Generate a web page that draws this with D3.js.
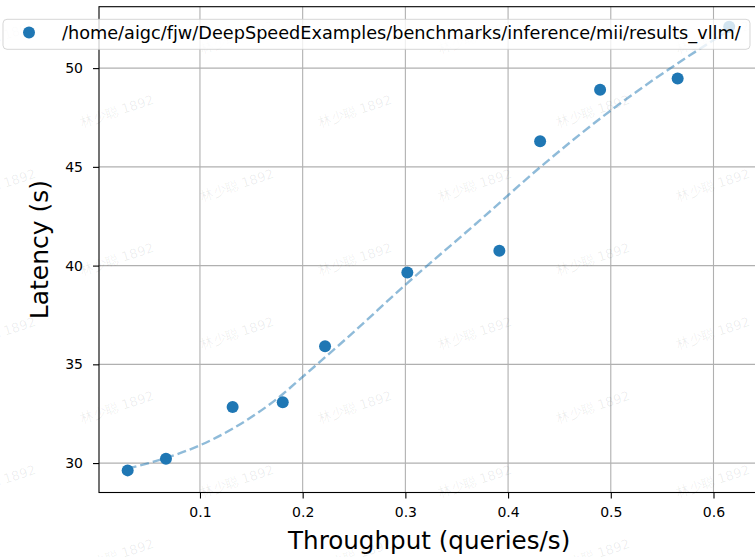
<!DOCTYPE html>
<html>
<head>
<meta charset="utf-8">
<script src="https://cdn.jsdelivr.net/npm/d3@7"></script>
<style>
    body { margin: 0; background: #fff; }
    #chart { width: 755px; height: 557px; overflow: hidden; }
    text { font-family: "DejaVu Sans", sans-serif; }
</style>
</head>
<body>
<div id="chart"></div>
<script>

// measured points (throughput in queries/s, latency in s)
const throughput = [0.0296, 0.0669, 0.1318, 0.1806, 0.2218, 0.3019, 0.3915, 0.4312, 0.4896, 0.5651, 0.6153];
const latency = [29.63, 30.22, 32.84, 33.08, 35.91, 39.65, 40.75, 46.30, 48.91, 49.48, 52.10];

// dashed trend line
const fitThroughput = [0.0296, 0.0669, 0.1000, 0.1321, 0.1808, 0.1974, 0.2461, 0.3016, 0.3727, 0.4312, 0.5004, 0.5413, 0.5998, 0.6190];
const fitLatency = [29.72, 30.26, 30.90, 31.75, 33.50, 34.25, 36.47, 39.10, 42.30, 44.98, 47.87, 49.40, 51.41, 52.03];

// axis ticks + limits
const xTicks = [0.1, 0.2, 0.3, 0.4, 0.5, 0.6];
const yTicks = [30, 35, 40, 45, 50];
const xLimits = [0.0017, 0.6446];
const yLimits = [28.51, 53.11];

const xLabel = "Throughput (queries/s)";
const yLabel = "Latency (s)";
const legendLabel = "/home/aigc/fjw/DeepSpeedExamples/benchmarks/inference/mii/results_vllm/";
const watermarkText = "林少聪 1892";

class LatencyPlot {

    constructor(parentElement) {
        this.parentElement = parentElement;
        this.initVis();
    }

    initVis() {
        let vis = this;

        // right side of the axes is cut off by the picture edge
        vis.margin = {top: 6.7, right: -4.3, bottom: 64.5, left: 99};
        vis.width = 755 - vis.margin.left - vis.margin.right;
        vis.height = 557 - vis.margin.top - vis.margin.bottom;

        vis.root = d3.select("#" + vis.parentElement).append("svg")
            .attr("width", 755)
            .attr("height", 557);

        vis.svg = vis.root.append("g")
            .attr("transform", "translate(" + vis.margin.left + "," + vis.margin.top + ")");

        vis.x = d3.scaleLinear().domain(xLimits).range([0, vis.width]);
        vis.y = d3.scaleLinear().domain(yLimits).range([vis.height, 0]);

        vis.updateVis();
    }

    updateVis() {
        let vis = this;

        // grid
        vis.svg.append("g").selectAll("line.vgrid")
            .data(xTicks).enter().append("line")
            .attr("x1", d => vis.x(d)).attr("x2", d => vis.x(d))
            .attr("y1", 0).attr("y2", vis.height)
            .attr("stroke", "#b0b0b0").attr("stroke-width", 1.1);

        vis.svg.append("g").selectAll("line.hgrid")
            .data(yTicks).enter().append("line")
            .attr("x1", 0).attr("x2", vis.width)
            .attr("y1", d => vis.y(d)).attr("y2", d => vis.y(d))
            .attr("stroke", "#b0b0b0").attr("stroke-width", 1.1);

        // axes
        let xAxis = vis.svg.append("g")
            .attr("transform", "translate(0," + vis.height + ")")
            .call(d3.axisBottom(vis.x).tickValues(xTicks).tickFormat(d3.format(".1f")).tickSize(6).tickPadding(9));

        let yAxis = vis.svg.append("g")
            .call(d3.axisLeft(vis.y).tickValues(yTicks).tickSize(6).tickPadding(10));

        [xAxis, yAxis].forEach(a => {
            a.select(".domain").remove();
            a.selectAll(".tick line").attr("stroke", "#000").attr("stroke-width", 1.1);
            a.selectAll(".tick text").attr("fill", "#000")
                .style("font-size", "14px").style("font-family", "DejaVu Sans");
        });

        // scatter points
        vis.svg.append("g").selectAll("circle")
            .data(throughput.map((t, i) => ({t: t, l: latency[i]})))
            .enter().append("circle")
            .attr("cx", d => vis.x(d.t))
            .attr("cy", d => vis.y(d.l))
            .attr("r", 6)
            .attr("fill", "#1f77b4");

        // trend line
        let line = d3.line()
            .x(d => vis.x(d.t))
            .y(d => vis.y(d.l))
            .curve(d3.curveMonotoneX);

        vis.svg.append("path")
            .datum(fitThroughput.map((t, i) => ({t: t, l: fitLatency[i]})))
            .attr("d", line)
            .attr("fill", "none")
            .attr("stroke", "#1f77b4")
            .attr("stroke-opacity", 0.5)
            .attr("stroke-width", 2.4)
            .attr("stroke-dasharray", "9,4");

        // frame
        vis.svg.append("rect")
            .attr("width", vis.width).attr("height", vis.height)
            .attr("fill", "none").attr("stroke", "#000").attr("stroke-width", 1.1);

        // axis labels
        vis.root.append("text")
            .attr("x", vis.margin.left + vis.width / 2)
            .attr("y", 549)
            .attr("text-anchor", "middle")
            .style("font-size", "24.6px")
            .text(xLabel);

        vis.root.append("text")
            .attr("transform", "translate(48," + (vis.margin.top + vis.height / 2) + ") rotate(-90)")
            .attr("text-anchor", "middle")
            .style("font-size", "25px")
            .text(yLabel);

        // watermark tiles
        let wm = vis.root.append("g").attr("class", "watermark");
        for (let r = 0; r < 8; r++) {
            let wy = 37 + 74 * r;
            for (let wx = (r % 2 === 0 ? -1 : 117); wx < 800; wx += 238) {
                wm.append("text")
                    .attr("transform", "translate(" + wx + "," + wy + ") rotate(-18)")
                    .attr("text-anchor", "middle")
                    .attr("dy", "0.35em")
                    .attr("fill", "#000")
                    .attr("fill-opacity", 0.07)
                    .style("font-size", "13px")
                    .text(watermarkText);
            }
        }

        // legend
        let legend = vis.root.append("g");
        legend.append("rect")
            .attr("x", 3).attr("y", 19.3)
            .attr("width", 747).attr("height", 30)
            .attr("rx", 4)
            .attr("fill", "#fff").attr("fill-opacity", 0.8)
            .attr("stroke", "#cccccc").attr("stroke-opacity", 0.8);
        legend.append("circle")
            .attr("cx", 29).attr("cy", 32.5).attr("r", 6)
            .attr("fill", "#1f77b4");
        legend.append("text")
            .attr("x", 62).attr("y", 38.5)
            .style("font-size", "17.7px")
            .attr("fill", "#000")
            .text(legendLabel);
    }
}

let myPlot = new LatencyPlot("chart");

</script>
</body>
</html>
